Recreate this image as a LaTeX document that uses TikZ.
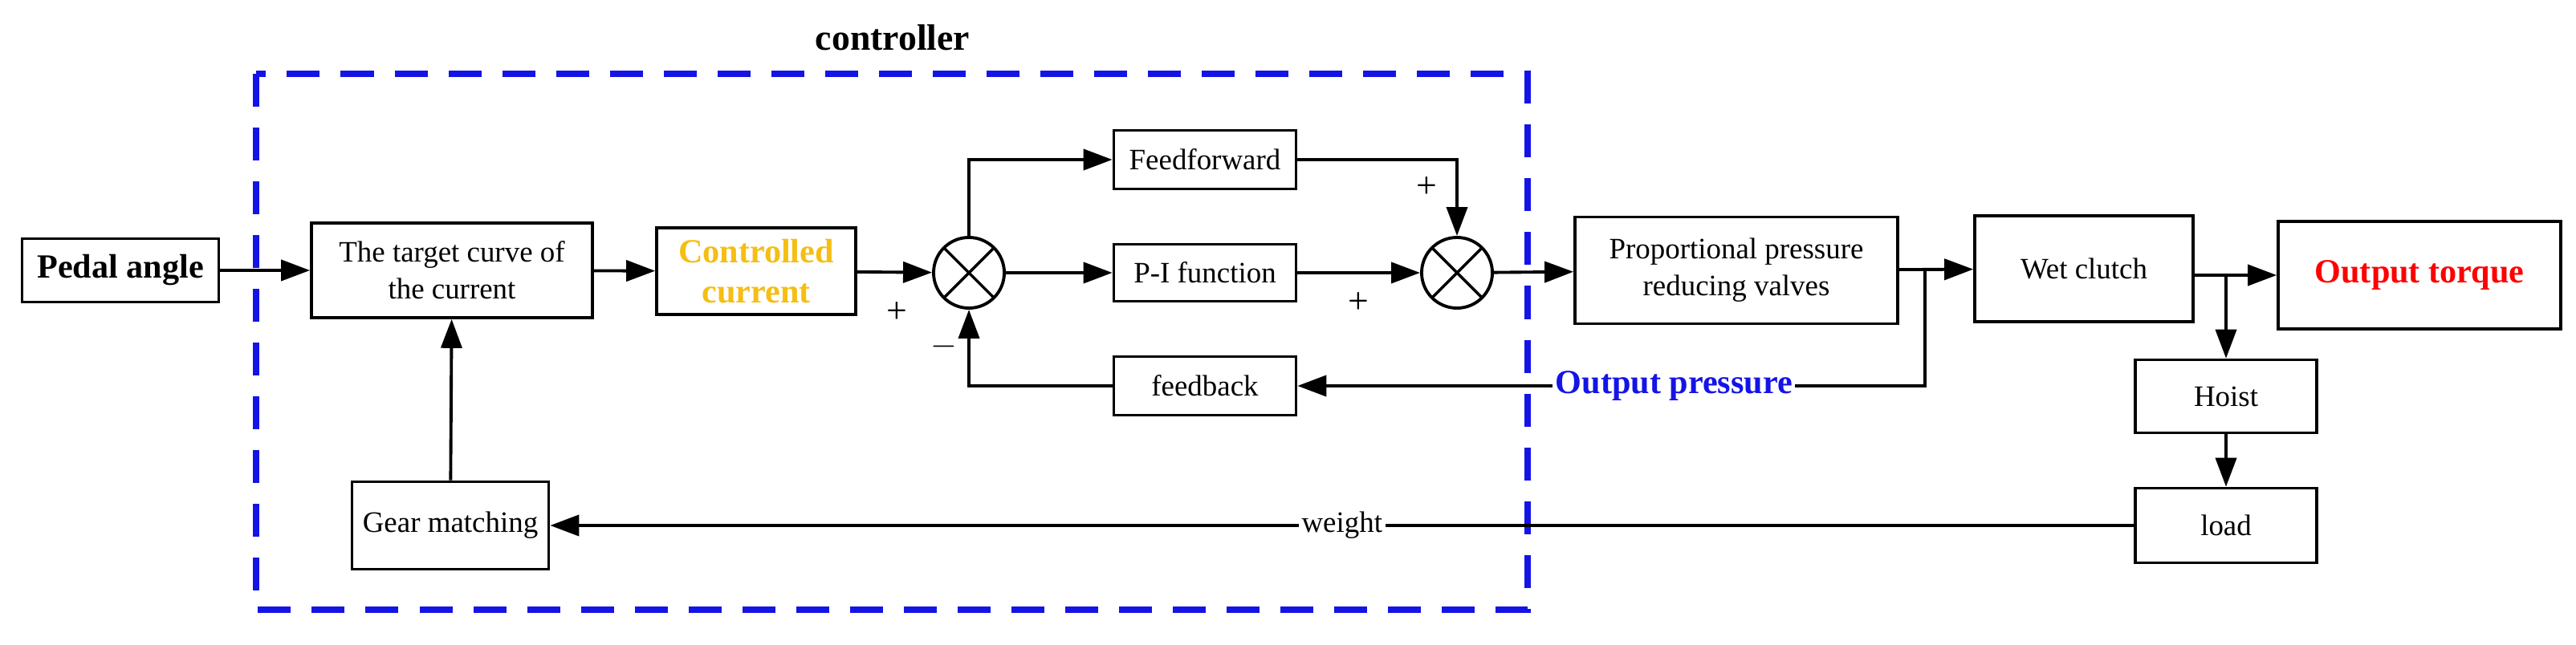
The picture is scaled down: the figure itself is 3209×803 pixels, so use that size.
\documentclass[tikz,border=0pt]{standalone}
\usepackage{fontspec}
\setmainfont{Liberation Serif}
\usetikzlibrary{arrows.meta}
\definecolor{gold}{RGB}{245,190,20}
\definecolor{dblue}{RGB}{20,20,230}
\begin{document}
\begin{tikzpicture}[x=0.01cm,y=-0.01cm,
  box/.style={draw,line width=1pt,inner sep=2pt,align=center,font=\fontsize{10.5}{13}\selectfont},
  arr/.style={line width=1.1pt,-{Triangle[length=0.36cm,width=0.26cm]}},
  ln/.style={line width=1.1pt},
  sum/.style={draw,line width=1.1pt,circle,minimum size=0.88cm,inner sep=0pt,
    path picture={\draw[line width=1pt] (path picture bounding box.north west)--(path picture bounding box.south east)
      (path picture bounding box.north east)--(path picture bounding box.south west);}}]
\useasboundingbox (0,0) rectangle (3209,803);
\node[box,minimum width=2.45cm,minimum height=0.79cm,font=\bfseries\fontsize{12}{14}\selectfont] (pa) at (150,337) {Pedal angle};
\node[box,minimum width=3.5cm,minimum height=1.18cm] (tc) at (563,337) {The target curve of\\the current};
\node[box,minimum width=2.48cm,minimum height=1.08cm,text=gold,font=\bfseries\fontsize{12}{14}\selectfont] (cc) at (942,338) {Controlled\\current};
\node[sum] (s1) at (1207,340) {};
\node[box,minimum width=2.27cm,minimum height=0.73cm] (ff) at (1501,199) {Feedforward};
\node[box,minimum width=2.27cm,minimum height=0.71cm] (pi) at (1501,340) {P-I function};
\node[box,minimum width=2.27cm,minimum height=0.73cm] (fb) at (1501,481) {feedback};
\node[sum] (s2) at (1815,340) {};
\node[box,minimum width=4.02cm,minimum height=1.33cm] (pv) at (2163,337) {Proportional pressure\\reducing valves};
\node[box,minimum width=2.72cm,minimum height=1.32cm] (wc) at (2596,335) {Wet clutch};
\node[box,minimum width=3.52cm,minimum height=1.34cm,text=red,font=\bfseries\fontsize{12}{14}\selectfont] (ot) at (3014,343) {Output torque};
\node[box,minimum width=2.26cm,minimum height=0.91cm] (ho) at (2773,494) {Hoist};
\node[box,minimum width=2.26cm,minimum height=0.93cm] (ld) at (2773,655) {load};
\node[box,minimum width=2.45cm,minimum height=1.09cm] (gm) at (561,655) {Gear matching};
\draw[dblue,line width=2.3pt,dash pattern=on 0.41cm off 0.26cm] (319,92) rectangle (1903,760);
\node[font=\bfseries\fontsize{13}{15}\selectfont] (ctl) at (1112,47) {controller};
\draw[arr] (pa) -- (tc);
\draw[arr] (tc) -- (cc);
\draw[arr] (cc) -- (s1);
\draw[arr] (s1) -- (pi);
\draw[arr] (s1.north) |- (ff.west);
\draw[arr] (fb.west) -| (s1.south);
\draw[arr] (ff.east) -| (s2.north);
\draw[arr] (pi) -- (s2);
\draw[arr] (s2) -- (pv);
\draw[arr] (pv) -- (wc);
\draw[arr] (wc.east |- ot.west) -- (ot.west);
\coordinate (b1) at (2398,337);
\coordinate (b2) at (2773,343);
\draw[arr] (b1) |- (fb.east) node[pos=0.70,fill=white,inner sep=1pt,text=dblue,font=\bfseries\fontsize{12}{14}\selectfont] (op) {Output pressure};
\draw[arr] (b2) -- (ho);
\draw[arr] (ho) -- (ld);
\draw[arr] (ld) -- (gm) node[pos=0.5,fill=white,inner sep=1pt,font=\fontsize{10.5}{13}\selectfont] (wt) {weight};
\draw[arr] (gm) -- (tc);
\node[font=\fontsize{13}{15}\selectfont] (p1) at (1117,390) {+};
\node[font=\fontsize{13}{15}\selectfont] (m1) at (1176,432) {$-$};
\node[font=\fontsize{13}{15}\selectfont] (p2) at (1777,234) {+};
\node[font=\fontsize{13}{15}\selectfont] (p3) at (1692,378) {+};
\end{tikzpicture}
\end{document}
